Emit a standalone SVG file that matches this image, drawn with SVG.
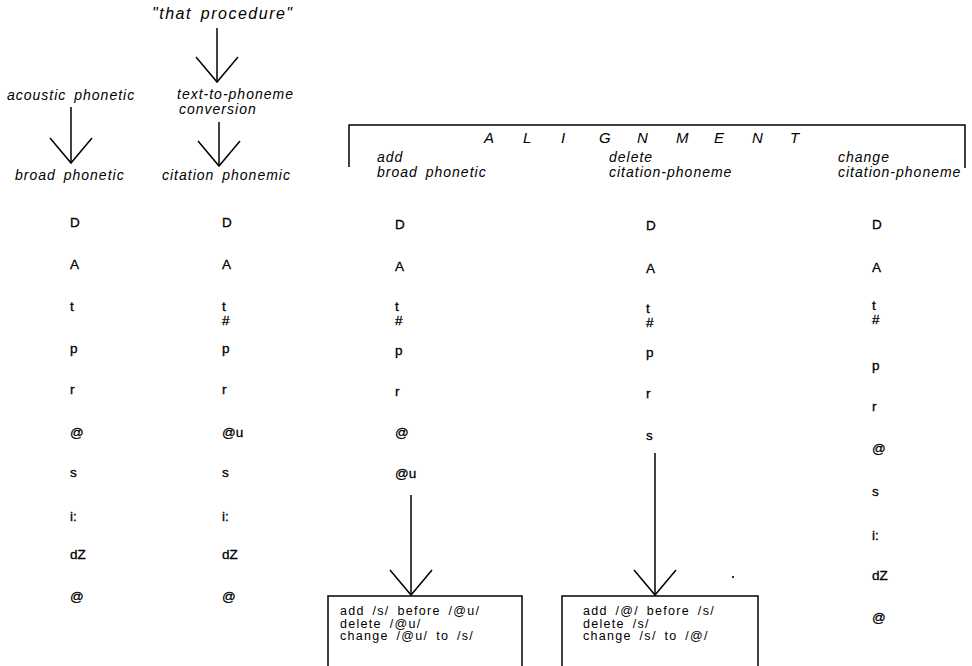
<svg xmlns="http://www.w3.org/2000/svg" width="972" height="666" viewBox="0 0 972 666">
<style>
.lbl{font-family:"Liberation Sans",Arial,sans-serif;font-style:italic;font-size:14px;letter-spacing:1px;word-spacing:3px;fill:#000}
.big{font-size:16px;letter-spacing:1.5px}
.ph{font-family:"Liberation Sans",Arial,sans-serif;font-size:13.5px;fill:#000;stroke:#000;stroke-width:0.3}
.box{font-family:"Liberation Sans",Arial,sans-serif;font-size:12.5px;letter-spacing:1.3px;word-spacing:3px;fill:#000}
.ln{stroke:#000;stroke-width:1.5;fill:none}
</style>
<defs>
<marker id="v" markerUnits="userSpaceOnUse" markerWidth="60" markerHeight="60" refX="0" refY="0" viewBox="-30 -30 60 60" orient="auto" overflow="visible">
<path d="M-25,-21 L0,0 L-25,21" fill="none" stroke="#000" stroke-width="1.5"/>
</marker>
</defs>
<rect width="972" height="666" fill="#fff"/>
<g id="connectors">
<line class="ln" x1="217" y1="28" x2="217" y2="82" marker-end="url(#v)"/>
<line class="ln" x1="71" y1="107" x2="71" y2="163" marker-end="url(#v)"/>
<line class="ln" x1="219" y1="122" x2="219" y2="166" marker-end="url(#v)"/>
<line class="ln" x1="411" y1="495" x2="411" y2="595" marker-end="url(#v)"/>
<line class="ln" x1="655" y1="453" x2="655" y2="595" marker-end="url(#v)"/>
</g>
<g id="that-procedure"><text class="lbl big" x="152" y="19">"that procedure"</text></g>
<g id="acoustic-phonetic"><text class="lbl" x="7" y="100">acoustic phonetic</text></g>
<g id="text-to-phoneme"><text class="lbl" x="177" y="99">text-to-phoneme</text><text class="lbl" x="179" y="114">conversion</text></g>
<g id="broad-phonetic"><text class="lbl" x="15" y="180">broad phonetic</text></g>
<g id="citation-phonemic"><text class="lbl" x="162" y="180">citation phonemic</text></g>
<g id="alignment">
<path class="ln" d="M349,167 V125 H965 V168"/>
<text class="lbl" style="font-size:15px;letter-spacing:0" y="143" x="484 504 523 542 561 580 599 618 637 656 676 695 714 733 752 771 790">A L I G N M E N T</text>
</g>
<g id="hdr-add"><text class="lbl" x="377" y="162">add</text><text class="lbl" x="377" y="177">broad phonetic</text></g>
<g id="hdr-delete"><text class="lbl" x="609" y="162">delete</text><text class="lbl" x="609" y="177">citation-phoneme</text></g>
<g id="hdr-change"><text class="lbl" x="838" y="162">change</text><text class="lbl" x="838" y="177">citation-phoneme</text></g>
<g id="col-broad">
<text class="ph" x="70" y="227">D</text><text class="ph" x="70" y="269">A</text><text class="ph" x="70" y="311">t</text><text class="ph" x="70" y="353">p</text><text class="ph" x="70" y="394">r</text><text class="ph" x="70" y="437">@</text><text class="ph" x="70" y="477">s</text><text class="ph" x="70" y="521">i:</text><text class="ph" x="70" y="559">dZ</text><text class="ph" x="70" y="601">@</text>
</g>
<g id="col-citation">
<text class="ph" x="222" y="227">D</text><text class="ph" x="222" y="269">A</text><text class="ph" x="222" y="311">t</text><text class="ph" x="222" y="325">#</text><text class="ph" x="222" y="353">p</text><text class="ph" x="222" y="394">r</text><text class="ph" x="222" y="437">@u</text><text class="ph" x="222" y="477">s</text><text class="ph" x="222" y="521">i:</text><text class="ph" x="222" y="559">dZ</text><text class="ph" x="222" y="601">@</text>
</g>
<g id="col-add">
<text class="ph" x="395" y="229">D</text><text class="ph" x="395" y="271">A</text><text class="ph" x="395" y="311">t</text><text class="ph" x="395" y="325">#</text><text class="ph" x="395" y="355">p</text><text class="ph" x="395" y="396">r</text><text class="ph" x="395" y="437">@</text><text class="ph" x="395" y="478">@u</text>
</g>
<g id="col-delete">
<text class="ph" x="646" y="230">D</text><text class="ph" x="646" y="273">A</text><text class="ph" x="646" y="313">t</text><text class="ph" x="646" y="327">#</text><text class="ph" x="646" y="357">p</text><text class="ph" x="646" y="398">r</text><text class="ph" x="646" y="440">s</text>
</g>
<g id="col-change">
<text class="ph" x="872" y="229">D</text><text class="ph" x="872" y="272">A</text><text class="ph" x="872" y="310">t</text><text class="ph" x="872" y="324">#</text><text class="ph" x="872" y="370">p</text><text class="ph" x="872" y="411">r</text><text class="ph" x="872" y="453">@</text><text class="ph" x="872" y="496">s</text><text class="ph" x="872" y="540">i:</text><text class="ph" x="872" y="580">dZ</text><text class="ph" x="872" y="622">@</text>
</g>
<g id="box-add">
<rect class="ln" x="328" y="596" width="194" height="90"/>
<text class="box" x="340" y="615">add /s/ before /@u/</text>
<text class="box" x="340" y="627.5">delete /@u/</text>
<text class="box" x="340" y="640">change /@u/ to /s/</text>
</g>
<g id="box-delete">
<rect class="ln" x="562" y="596" width="196" height="90"/>
<text class="box" x="583" y="615">add /@/ before /s/</text>
<text class="box" x="583" y="627.5">delete /s/</text>
<text class="box" x="583" y="640">change /s/ to /@/</text>
</g>
<circle cx="733" cy="577" r="1.1" fill="#000"/>
</svg>
